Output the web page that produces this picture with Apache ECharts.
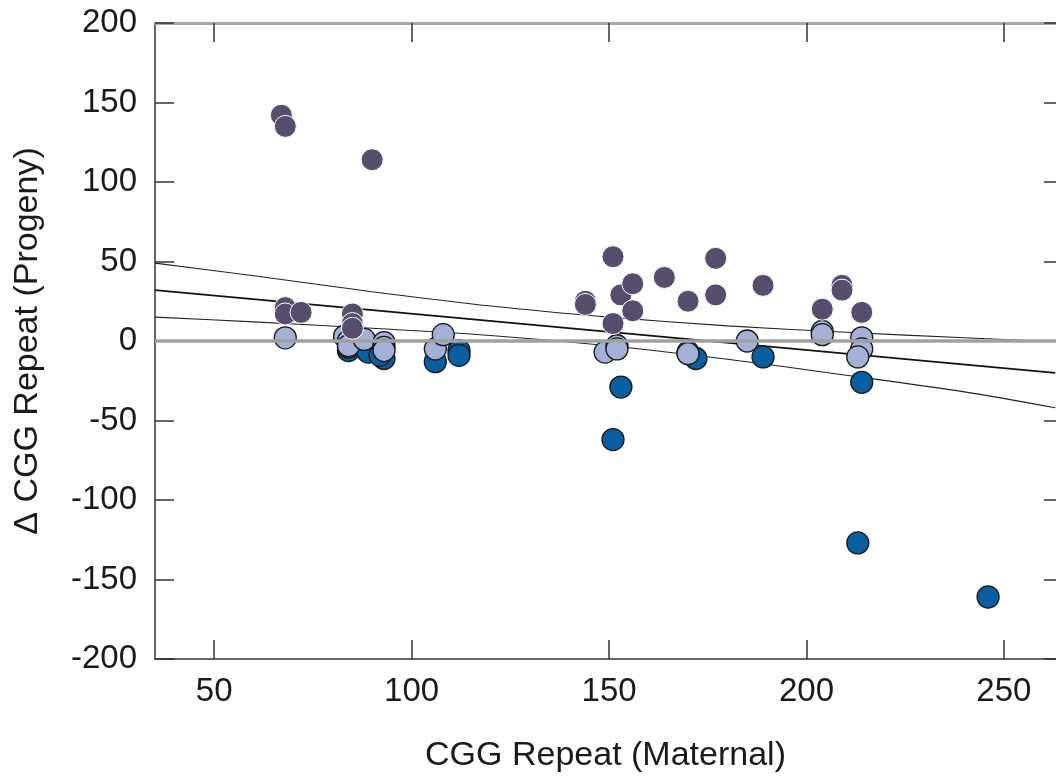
<!DOCTYPE html>
<html>
<head>
<meta charset="utf-8">
<script src="https://cdn.jsdelivr.net/npm/echarts@6/dist/echarts.min.js"></script>
<style>
  html, body { margin: 0; padding: 0; background: #fff; }
  #chart { width: 1056px; height: 780px; }
</style>
</head>
<body>
<div id="chart"></div>
<script>
// tick values
const xTicks = [50, 100, 150, 200, 250];
const yTicks = [-200, -150, -100, -50, 0, 50, 100, 150, 200];

// points [maternal CGG, delta CGG]
const expansions = [
  [67, 142], [68, 135], [90, 114],
  [68, 21], [68, 17], [72, 18],
  [85, 17], [85, 11], [85, 8],
  [144, 25], [144, 23], [151, 53], [151, 11], [153, 29], [156, 36], [156, 19],
  [164, 40], [170, 25], [177, 52], [177, 29], [189, 35],
  [204, 20], [209, 35], [209, 32], [214, 18]
];
const stable = [
  [68, 2],
  [83, 3], [84, 0], [84, -3], [88, 1], [93, -1], [93, -4], [93, -6],
  [106, -5], [108, 4],
  [149, -7], [152, -3], [152, -5],
  [170, -7], [170, -8],
  [185, 0],
  [204, 6], [204, 4],
  [214, 2], [214, -5], [213, -10]
];
const contractions = [
  [84, -6], [84, -4], [89, -7], [93, -11], [92, -9],
  [106, -13], [112, -6], [112, -9],
  [151, -62], [153, -29],
  [172, -11], [189, -10],
  [213, -127], [214, -26], [246, -161]
];

// regression line and its band
const fitX = [35, 263];
const fitY = [32, -20];
const bandX = [35, 60, 90, 120, 150, 180, 210, 240, 263];
const upperY = [49, 41, 31, 22, 15, 9.5, 5.5, 2, -0.5];
const lowerY = [15, 12, 8, 3.5, -3, -11.5, -21.5, -32, -42];

const zip = (xs, ys) => xs.map((x, i) => [x, ys[i]]);

const font = "'Liberation Sans', Arial, sans-serif";
const ink = '#1a1a1a';

const myChart = echarts.init(document.getElementById('chart'));

// x range is cut at the right edge of the picture
const xMin = 35, xMax = 263.2;

const option = {
  animation: false,
  grid: { left: 155, top: 23, right: 0, bottom: 121 },
  xAxis: [
    {
      type: 'value', min: xMin, max: xMax, position: 'bottom',
      name: 'CGG Repeat (Maternal)', nameLocation: 'middle', nameGap: 80,
      nameTextStyle: { fontSize: 34, color: ink, fontFamily: font },
      axisLine: { onZero: false, lineStyle: { color: '#333', width: 1.5 } },
      axisTick: { inside: true, length: 19, customValues: xTicks, lineStyle: { color: '#333', width: 1.5 } },
      axisLabel: { customValues: xTicks, margin: 16, fontSize: 33, color: ink, fontFamily: font },
      splitLine: { show: false }
    },
    {
      type: 'value', min: xMin, max: xMax, position: 'top',
      axisLine: { onZero: false, lineStyle: { color: '#a8a8a8', width: 3 } },
      axisTick: { inside: true, length: 19, customValues: xTicks, lineStyle: { color: '#333', width: 1.5 } },
      axisLabel: { show: false },
      splitLine: { show: false }
    }
  ],
  yAxis: [
    {
      type: 'value', min: -200, max: 200, interval: 50, position: 'left',
      name: 'Δ CGG Repeat (Progeny)', nameLocation: 'middle', nameGap: 110, nameRotate: 90,
      nameTextStyle: { fontSize: 34, color: ink, fontFamily: font },
      axisLine: { onZero: false, lineStyle: { color: '#333', width: 1.5 } },
      axisTick: { inside: true, length: 19, lineStyle: { color: '#333', width: 1.5 } },
      axisLabel: { margin: 18, fontSize: 33, color: ink, fontFamily: font },
      splitLine: { show: false }
    },
    {
      type: 'value', min: -200, max: 200, interval: 50, position: 'right',
      axisLine: { show: false },
      axisTick: { show: true, inside: true, length: 12, lineStyle: { color: '#333', width: 1.5 } },
      axisLabel: { show: false },
      splitLine: { show: false }
    }
  ],
  series: [
    {
      type: 'line', name: 'upper', z: 2, data: zip(bandX, upperY),
      symbol: 'none', smooth: 0.3,
      lineStyle: { color: '#222', width: 1.1 },
      markLine: {
        silent: true, symbol: 'none', label: { show: false },
        lineStyle: { color: '#a0a0a0', width: 3.5, type: 'solid' },
        data: [{ yAxis: 0 }]
      }
    },
    {
      type: 'line', name: 'lower', z: 2, data: zip(bandX, lowerY),
      symbol: 'none', smooth: 0.3,
      lineStyle: { color: '#222', width: 1.1 }
    },
    {
      type: 'line', name: 'fit', z: 2, data: zip(fitX, fitY),
      symbol: 'none',
      lineStyle: { color: '#111', width: 1.7 }
    },
    {
      type: 'scatter', name: 'contraction', z: 3, data: contractions,
      symbol: 'circle', symbolSize: 22,
      itemStyle: { color: '#0a5fa2', borderColor: '#1a1a1a', borderWidth: 1.3, opacity: 1 }
    },
    {
      type: 'scatter', name: 'stable', z: 4, data: stable,
      symbol: 'circle', symbolSize: 22,
      itemStyle: { color: '#a3b1d6', borderColor: '#1a1a1a', borderWidth: 1.3, opacity: 1 }
    },
    {
      type: 'scatter', name: 'expansion', z: 5, data: expansions,
      symbol: 'circle', symbolSize: 22,
      itemStyle: { color: '#574d6d', borderColor: '#ffffff', borderWidth: 1, opacity: 1 }
    }
  ]
};

myChart.setOption(option);
</script>
</body>
</html>
